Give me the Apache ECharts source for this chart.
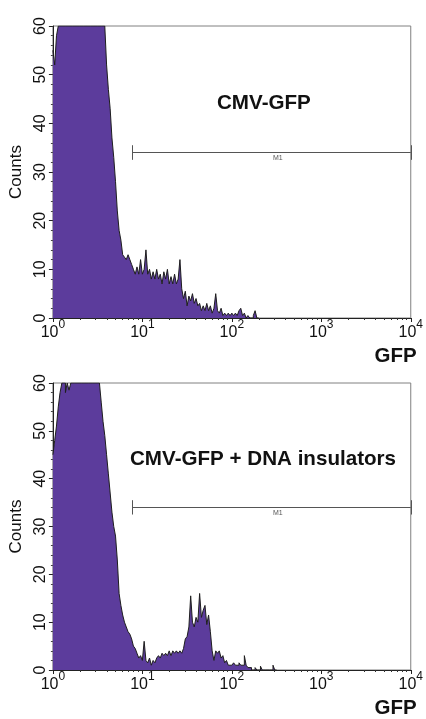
<!DOCTYPE html>
<html><head><meta charset="utf-8">
<script src="https://cdn.jsdelivr.net/npm/echarts@6/dist/echarts.min.js"></script>
<style>html,body{margin:0;padding:0;background:#fff}#c{width:426px;height:719px}</style>
</head><body><div id="c"></div>
<script>
// FACS channels: evenly spaced in log10(GFP)
const binStepLog = 0.02;

// Counts per channel, top panel (CMV-GFP)
const countsTop = [
  55, 52, 58, 60, 60, 60, 60, 60, 60, 60,
  60, 60, 60, 60, 60, 60, 60, 60, 60, 60,
  60, 60, 60, 60, 60, 60, 60, 60, 60, 60,
  52, 47, 43, 37, 33, 28, 22, 18, 16, 13,
  12.5, 12, 13, 12, 11, 10, 9, 10.5, 9, 12,
  9, 10, 14, 9, 10, 8, 9.5, 8, 10, 8,
  9, 7, 9.5, 8, 10, 7, 8.5, 7, 9, 7,
  8, 12, 6, 4, 5.5, 2.5, 4.5, 3.5, 5, 3,
  4, 2.5, 3, 1.5, 2.5, 1.5, 3, 1.5, 2.5, 1,
  2, 5, 1.5, 1, 2, 0.5, 1, 0.5, 1, 0.5,
  1, 0.5, 1, 0.5, 1.5, 2, 0.5, 1, 0, 0.5,
  0, 0, 0.5, 1.5, 0
];

// Counts per channel, bottom panel (CMV-GFP + DNA insulators)
const countsBottom = [
  45, 48, 51, 55, 58, 60, 60, 58, 60, 58.5,
  60, 60, 60, 60, 60, 60, 60, 60, 60, 60,
  60, 60, 60, 60, 60, 60, 60, 56, 52, 49,
  45, 41, 37, 33, 30, 28, 23, 16, 13.5, 11.5,
  10, 9, 8, 7.5, 6.5, 5, 4.5, 3.5, 2.5, 3,
  2, 6, 2, 1.5, 2.5, 1, 2, 1.5, 2.5, 3,
  2.5, 3.5, 3, 3.5, 3, 4, 3, 4, 3.5, 4,
  3.5, 4, 3.5, 4.5, 6.5, 7, 9, 15.5, 10, 9,
  11, 10, 16, 11, 12.5, 13.5, 9.5, 11.5, 8, 4,
  2, 4, 3.5, 4, 2.5, 3, 1.5, 2, 1, 1,
  1, 1.5, 1, 1, 1.5, 1, 1, 3, 1, 0.5,
  0.5, 0, 0, 0.5, 0, 0, 0.8, 0, 0, 0,
  0, 0, 0, 1, 0
];

const xTickExponents = ['0', '1', '2', '3', '4'];
const yTickLabels = ['0', '10', '20', '30', '40', '50', '60'];
const panelTitles = ['CMV-GFP', 'CMV-GFP + DNA insulators'];
const xAxisName = 'GFP';
const yAxisName = 'Counts';
const markerLabel = 'M1';
const markerRange = [7.8, 10000];
const markerLevel = 34;

const FONT = '"Liberation Sans", Arial, Helvetica, sans-serif';
const FILL = '#5c3c9c';
const INK = '#111';

function toPoints(counts) {
  const pts = counts.map((c, i) => [Math.pow(10, i * binStepLog), c]);
  pts.push([Math.pow(10, counts.length * binStepLog), 0]);
  return pts;
}

// minor ticks at 2..9 x 10^d (positions in log space)
const minorTickLogs = [];
for (let d = 0; d < 4; d++) for (let k = 2; k <= 9; k++) minorTickLogs.push(Math.log10(k) + d);

const grids = [
  { left: 52, top: 26, width: 363, height: 292 },
  { left: 52, top: 383, width: 363, height: 290 }
].map(g => Object.assign(g, { show: true, borderColor: '#808080', borderWidth: 1, backgroundColor: 'transparent' }));

function logAxis(gi) {
  return {
    type: 'log', logBase: 10, min: 1, max: 10000, gridIndex: gi, position: 'bottom',
    axisLine: { show: true, lineStyle: { color: '#222', width: 1 } },
    axisTick: { show: true, length: 4, lineStyle: { color: '#222' } },
    splitLine: { show: false }, minorTick: { show: false },
    axisLabel: {
      margin: 1, showMinLabel: true, showMaxLabel: true, color: INK,
      formatter: (v, i) => '{b|10}{s|' + xTickExponents[i] + '}',
      rich: {
        b: { fontSize: 16, lineHeight: 28, fontFamily: FONT, color: INK },
        s: { fontSize: 12, lineHeight: 12, verticalAlign: 'top', fontFamily: FONT, color: INK }
      }
    },
    name: xAxisName, nameLocation: 'end', nameGap: 6,
    nameTextStyle: { fontSize: 20.5, fontWeight: 'bold', color: INK, fontFamily: FONT, align: 'right', verticalAlign: 'top', padding: [28, 0, 0, 0] }
  };
}
function minorAxis(gi) {
  return {
    type: 'value', min: 0, max: 4, gridIndex: gi, position: 'bottom',
    axisLine: { show: false }, axisLabel: { show: false }, splitLine: { show: false },
    axisTick: { show: true, length: 2, customValues: minorTickLogs, lineStyle: { color: '#333' } }
  };
}
function yAxis(gi) {
  return {
    type: 'value', min: 0, max: 60, interval: 10, gridIndex: gi,
    axisLine: { show: true, lineStyle: { color: '#222', width: 1 } },
    axisTick: { show: true, length: 4, lineStyle: { color: '#222' } },
    minorTick: { show: true, splitNumber: 5, length: 2, lineStyle: { color: '#444' } },
    splitLine: { show: false },
    axisLabel: { rotate: 90, margin: 4, fontSize: 16, color: INK, fontFamily: FONT, formatter: (v, i) => yTickLabels[i] },
    name: yAxisName, nameLocation: 'middle', nameGap: 25,
    nameTextStyle: { fontSize: 17, color: INK, fontFamily: FONT }
  };
}
function histSeries(counts, xi, yi) {
  return {
    type: 'line', xAxisIndex: xi, yAxisIndex: yi, data: toPoints(counts), step: 'end',
    showSymbol: false, silent: true, clip: true,
    lineStyle: { color: '#1e1e1e', width: 1 },
    areaStyle: { color: FILL, opacity: 1 }
  };
}
function markerSeries(xi, yi) {
  const cap = 1.5;
  return {
    type: 'line', xAxisIndex: xi, yAxisIndex: yi, data: [], silent: true,
    markLine: {
      silent: true, symbol: 'none', animation: false,
      lineStyle: { color: '#555', width: 1, type: 'solid' },
      label: { show: false },
      data: [
        [{ coord: [markerRange[0], markerLevel], label: { show: true, formatter: markerLabel, position: 'insideMiddleBottom', distance: 2, offset: [6, 0], fontSize: 7, color: '#555', fontFamily: FONT } },
         { coord: [markerRange[1], markerLevel] }],
        [{ coord: [markerRange[0], markerLevel - cap] }, { coord: [markerRange[0], markerLevel + cap] }],
        [{ coord: [markerRange[1], markerLevel - cap] }, { coord: [markerRange[1], markerLevel + cap] }]
      ]
    }
  };
}

const chart = echarts.init(document.getElementById('c'), null, { renderer: 'canvas' });
chart.setOption({
  animation: false,
  backgroundColor: '#fff',
  title: [
    { text: panelTitles[0], left: 217, top: 92.5, padding: 0, textStyle: { fontSize: 20.6, fontWeight: 'bold', color: INK, fontFamily: FONT } },
    { text: panelTitles[1], left: 130, top: 449, padding: 0, textStyle: { fontSize: 20.6, fontWeight: 'bold', color: INK, fontFamily: FONT } }
  ],
  grid: grids,
  xAxis: [logAxis(0), minorAxis(0), logAxis(1), minorAxis(1)],
  yAxis: [yAxis(0), yAxis(1)],
  series: [
    histSeries(countsTop, 0, 0), markerSeries(0, 0),
    histSeries(countsBottom, 2, 1), markerSeries(2, 1)
  ]
});
</script></body></html>
